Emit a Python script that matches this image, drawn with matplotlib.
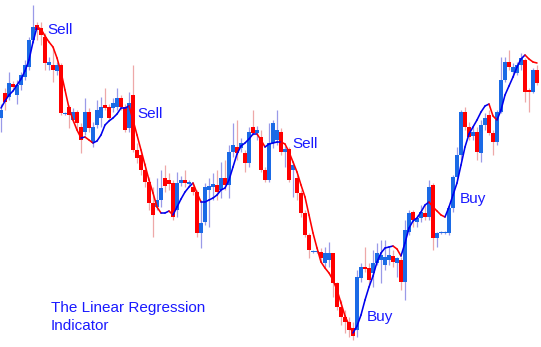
import numpy as np
import matplotlib
matplotlib.use("Agg")
import matplotlib.pyplot as plt
from matplotlib.collections import LineCollection

plt.rcParams['font.family'] = ['Liberation Sans', 'DejaVu Sans']

# candle data (price units)
opens = [232, 257, 253, 266, 255, 265, 273, 283, 310, 325, 322, 313, 285, 285, 279, 285, 236, 243, 230, 238,
         223, 218, 238, 207, 225, 232, 245, 243, 242, 243, 252, 243, 222, 255, 200, 195, 180, 168, 147, 143,
         150, 172, 170, 167, 140, 167, 170, 166, 163, 158, 117, 128, 160, 163, 165, 160, 172, 165, 198, 203,
         202, 197, 187, 223, 217, 213, 180, 170, 207, 210, 218, 198, 201, 180, 172, 157, 137, 115, 98, 98,
         98, 87, 90, 97, 67, 43, 33, 28, 22, 20, 72, 83, 82, 77, 87, 90, 85, 90, 94, 87,
         90, 68, 118, 138, 128, 132, 137, 133, 165, 112, 117, 117, 117, 142, 173, 195, 238, 223, 214, 218,
         197, 225, 235, 217, 208, 238, 270, 288, 278, 277, 285, 290, 260, 258, 280]
closes = [240, 248, 267, 263, 265, 275, 285, 310, 323, 320, 315, 287, 288, 280, 285, 237, 237, 235, 238, 227,
          210, 238, 222, 223, 240, 243, 242, 232, 247, 252, 243, 220, 247, 200, 192, 180, 168, 147, 135, 150,
          162, 164, 166, 133, 167, 170, 167, 168, 158, 117, 127, 163, 164, 166, 158, 172, 165, 198, 205, 197,
          207, 187, 218, 217, 220, 180, 170, 207, 227, 220, 198, 201, 170, 185, 157, 137, 115, 100, 99, 99,
          92, 97, 97, 67, 43, 33, 28, 20, 14, 73, 83, 81, 70, 87, 97, 95, 93, 95, 88, 92,
          68, 120, 137, 130, 132, 138, 133, 163, 112, 117, 118, 118, 142, 173, 195, 238, 223, 213, 218, 198,
          225, 232, 217, 208, 238, 270, 288, 283, 283, 285, 292, 258, 258, 280, 267]
highs = [246, 262, 278, 269, 270, 278, 290, 313, 345, 328, 328, 317, 293, 303, 288, 287, 238, 245, 242, 240,
         227, 252, 242, 228, 250, 253, 262, 246, 252, 262, 255, 246, 258, 285, 207, 200, 187, 173, 163, 172,
         180, 185, 177, 170, 178, 174, 180, 170, 167, 160, 150, 167, 172, 177, 180, 188, 190, 205, 227, 230,
         212, 200, 223, 240, 224, 220, 183, 227, 230, 240, 222, 204, 203, 188, 175, 160, 140, 117, 100, 100,
         102, 103, 108, 97, 68, 50, 40, 33, 28, 80, 87, 103, 87, 100, 107, 110, 110, 103, 100, 93,
         93, 130, 140, 140, 135, 145, 145, 170, 167, 118, 119, 119, 145, 175, 203, 240, 243, 228, 223, 223,
         230, 237, 240, 220, 240, 293, 293, 300, 287, 288, 297, 292, 262, 282, 285]
lows = [218, 240, 250, 260, 246, 260, 270, 280, 307, 310, 305, 280, 280, 268, 275, 235, 235, 222, 228, 220,
        197, 215, 218, 203, 222, 223, 240, 230, 238, 240, 240, 218, 218, 198, 187, 175, 163, 140, 113, 140,
        143, 158, 160, 130, 133, 164, 163, 164, 155, 113, 102, 125, 123, 150, 150, 152, 160, 152, 193, 190,
        198, 178, 183, 215, 210, 178, 168, 168, 202, 205, 195, 183, 168, 153, 150, 133, 113, 92, 97, 97,
        88, 83, 83, 53, 40, 25, 17, 13, 10, 13, 68, 78, 65, 63, 85, 67, 80, 85, 83, 73,
        60, 50, 115, 123, 123, 128, 130, 130, 100, 103, 116, 116, 115, 138, 170, 190, 220, 210, 210, 190,
        188, 220, 215, 195, 205, 237, 268, 280, 273, 275, 280, 248, 238, 257, 265]

# linear regression indicator values
linreg = [242, 249, 255, 259, 265, 271, 279, 290, 308, 323, 321, 314, 308, 303, 292, 278, 260, 242, 230, 220,
          212, 213, 210, 207, 209, 215, 225, 229, 232, 236, 242, 242, 244, 230, 215, 200, 185, 170, 157, 143,
          137, 137, 139, 135, 143, 151, 158, 163, 167, 157, 148, 148, 150, 152, 155, 160, 162, 170, 183, 196,
          204, 207, 211, 216, 216, 210, 203, 206, 207, 208, 208, 206, 198, 188, 178, 165, 153, 135, 117, 102,
          88, 82, 77, 70, 60, 47, 34, 25, 17, 24, 35, 50, 63, 74, 88, 97, 102, 103, 104, 101,
          94, 107, 122, 129, 132, 138, 145, 148, 143, 139, 135, 133, 143, 155, 167, 185, 203, 216, 223, 230,
          238, 244, 246, 234, 230, 240, 255, 264, 273, 283, 291, 295, 291, 288, 287]

labels = ["Sell", "Sell", "Sell", "Buy", "Buy"]
label_pos = [(11.5, 316), (34, 232), (72.9, 202), (91.4, 29.5), (114.7, 147)]
title_lines = ["The Linear Regression", "Indicator"]

RED = "#ff0000"
BLUE = "#1a6ae6"

fig = plt.figure(figsize=(5.41, 3.47), dpi=100)
ax = fig.add_axes([0, 0, 1, 1])
ax.set_xlim(-0.25, 135)
ax.set_ylim(3, 350)
ax.axis("off")

o = np.array(opens, float)
c = np.array(closes, float)
h = np.array(highs, float)
l = np.array(lows, float)
x = np.arange(len(o))
up = c >= o

wick_cols = np.where(up, "#9a9ae8", "#eea8a8")
ax.vlines(x, l, h, colors=wick_cols, linewidth=0.9, zorder=1)
body_cols = np.where(up, BLUE, RED)
bottom = np.minimum(o, c)
height = np.maximum(np.abs(c - o), 1.0)
ax.bar(x, height, bottom=bottom, width=0.82, color=body_cols, linewidth=0, zorder=2)

# indicator line, red when falling, blue when rising
y = np.array(linreg, float)
pts = np.column_stack([x, y])
segs = np.stack([pts[:-1], pts[1:]], axis=1)
seg_cols = ["#0000ee" if y[i + 1] >= y[i] else RED for i in range(len(y) - 1)]
ax.add_collection(LineCollection(segs, colors=seg_cols, linewidths=1.15, zorder=3,
                                 capstyle="round", joinstyle="round"))

for t, (px, py) in zip(labels, label_pos):
    ax.text(px, py, t, color="#1a1aff", fontsize=11, va="baseline", ha="left", zorder=4)

ax.text(12.5, 38.3, title_lines[0], color="#1a1aff", fontsize=11, va="baseline", ha="left")
ax.text(12.5, 20, title_lines[1], color="#1a1aff", fontsize=11, va="baseline", ha="left")

fig.savefig("out.png", dpi=100, facecolor="white")
